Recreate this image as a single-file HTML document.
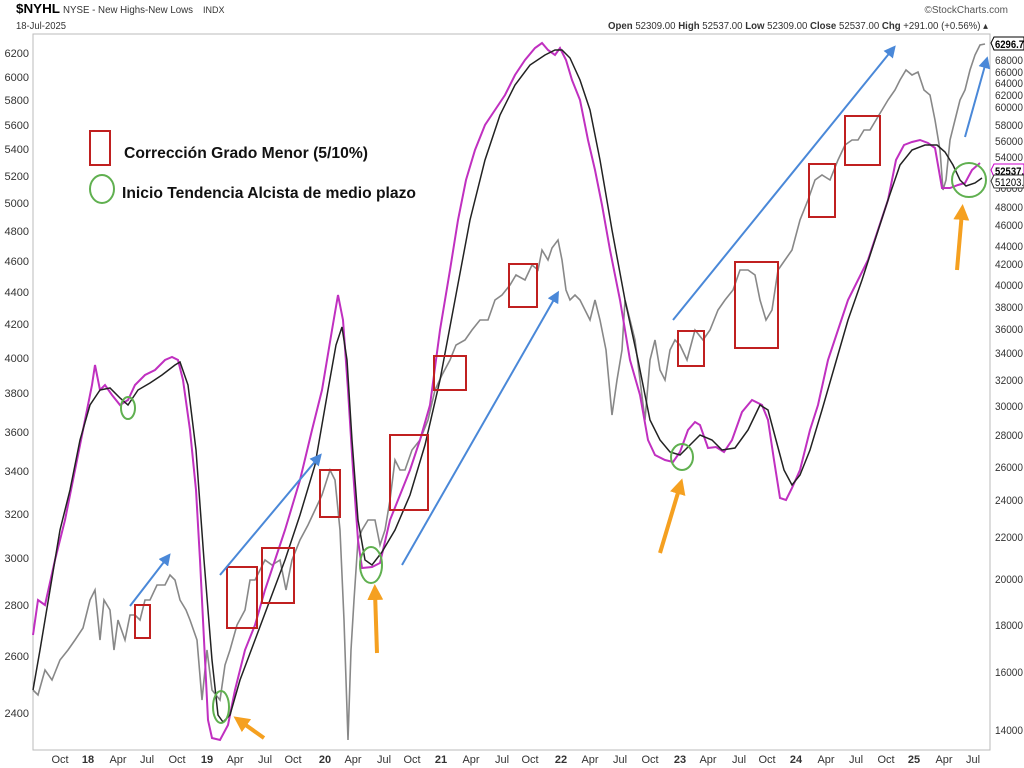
<!DOCTYPE html>
<html><head><meta charset="utf-8"><style>
body{margin:0;background:#fff;}
svg{display:block;font-family:"Liberation Sans",sans-serif;}
.ax{font-size:11px;fill:#333;}
.ra{font-size:11px;fill:#333;}
</style></head><body>
<svg width="1024" height="768" viewBox="0 0 1024 768">
<rect width="1024" height="768" fill="#fff"/>
<text x="16" y="13" font-size="13" font-weight="bold" fill="#000" textLength="44" lengthAdjust="spacingAndGlyphs">$NYHL</text>
<text x="63" y="13" font-size="10" fill="#333" textLength="130" lengthAdjust="spacingAndGlyphs">NYSE - New Highs-New Lows</text>
<text x="203" y="13" font-size="9" fill="#333">INDX</text>
<text x="16" y="29" font-size="10" fill="#333" textLength="50" lengthAdjust="spacingAndGlyphs">18-Jul-2025</text>
<text x="1008" y="13" font-size="10" fill="#555" text-anchor="end">©StockCharts.com</text>
<text x="608" y="29" font-size="10" fill="#333" textLength="380" lengthAdjust="spacingAndGlyphs"><tspan font-weight="bold">Open</tspan> 52309.00 <tspan font-weight="bold">High</tspan> 52537.00 <tspan font-weight="bold">Low</tspan> 52309.00 <tspan font-weight="bold">Close</tspan> 52537.00 <tspan font-weight="bold">Chg</tspan> +291.00 (+0.56%) ▴</text>
<rect x="33" y="34" width="957" height="716" fill="none" stroke="#bbb"/>
<g class="ax" text-anchor="end">
<text x="29" y="57">6200</text><text x="29" y="81">6000</text><text x="29" y="104">5800</text><text x="29" y="129">5600</text><text x="29" y="153">5400</text><text x="29" y="180">5200</text><text x="29" y="207">5000</text><text x="29" y="235">4800</text><text x="29" y="265">4600</text><text x="29" y="296">4400</text><text x="29" y="328">4200</text><text x="29" y="362">4000</text><text x="29" y="397">3800</text><text x="29" y="436">3600</text><text x="29" y="475">3400</text><text x="29" y="518">3200</text><text x="29" y="562">3000</text><text x="29" y="609">2800</text><text x="29" y="660">2600</text><text x="29" y="717">2400</text>
</g>
<g class="ra">
<text x="995" y="64" textLength="28" lengthAdjust="spacingAndGlyphs">68000</text><text x="995" y="76" textLength="28" lengthAdjust="spacingAndGlyphs">66000</text><text x="995" y="87" textLength="28" lengthAdjust="spacingAndGlyphs">64000</text><text x="995" y="99" textLength="28" lengthAdjust="spacingAndGlyphs">62000</text><text x="995" y="111" textLength="28" lengthAdjust="spacingAndGlyphs">60000</text><text x="995" y="129" textLength="28" lengthAdjust="spacingAndGlyphs">58000</text><text x="995" y="145" textLength="28" lengthAdjust="spacingAndGlyphs">56000</text><text x="995" y="161" textLength="28" lengthAdjust="spacingAndGlyphs">54000</text><text x="995" y="192" textLength="28" lengthAdjust="spacingAndGlyphs">50000</text><text x="995" y="211" textLength="28" lengthAdjust="spacingAndGlyphs">48000</text><text x="995" y="229" textLength="28" lengthAdjust="spacingAndGlyphs">46000</text><text x="995" y="250" textLength="28" lengthAdjust="spacingAndGlyphs">44000</text><text x="995" y="268" textLength="28" lengthAdjust="spacingAndGlyphs">42000</text><text x="995" y="289" textLength="28" lengthAdjust="spacingAndGlyphs">40000</text><text x="995" y="311" textLength="28" lengthAdjust="spacingAndGlyphs">38000</text><text x="995" y="333" textLength="28" lengthAdjust="spacingAndGlyphs">36000</text><text x="995" y="357" textLength="28" lengthAdjust="spacingAndGlyphs">34000</text><text x="995" y="384" textLength="28" lengthAdjust="spacingAndGlyphs">32000</text><text x="995" y="410" textLength="28" lengthAdjust="spacingAndGlyphs">30000</text><text x="995" y="439" textLength="28" lengthAdjust="spacingAndGlyphs">28000</text><text x="995" y="471" textLength="28" lengthAdjust="spacingAndGlyphs">26000</text><text x="995" y="504" textLength="28" lengthAdjust="spacingAndGlyphs">24000</text><text x="995" y="541" textLength="28" lengthAdjust="spacingAndGlyphs">22000</text><text x="995" y="583" textLength="28" lengthAdjust="spacingAndGlyphs">20000</text><text x="995" y="629" textLength="28" lengthAdjust="spacingAndGlyphs">18000</text><text x="995" y="676" textLength="28" lengthAdjust="spacingAndGlyphs">16000</text><text x="995" y="734" textLength="28" lengthAdjust="spacingAndGlyphs">14000</text>
</g>
<path d="M991,43 l3,-6 h30 v13 h-30z" fill="#fff" stroke="#000"/><text x="995" y="48" font-size="11" font-weight="bold" textLength="29" lengthAdjust="spacingAndGlyphs">6296.7</text>
<path d="M991,170 l3,-6 h30 v13 h-30z" fill="#fff" stroke="#c0c"/><text x="995" y="175" font-size="11" font-weight="bold" textLength="29" lengthAdjust="spacingAndGlyphs">52537.</text>
<path d="M991,181 l3,-6 h30 v13 h-30z" fill="#fff" stroke="#333"/><text x="995" y="186" font-size="11" textLength="29" lengthAdjust="spacingAndGlyphs">51203.</text>
<g class="ax" text-anchor="middle">
<text x="60" y="763">Oct</text><text x="88" y="763" font-weight="bold">18</text><text x="118" y="763">Apr</text><text x="147" y="763">Jul</text><text x="177" y="763">Oct</text><text x="207" y="763" font-weight="bold">19</text><text x="235" y="763">Apr</text><text x="265" y="763">Jul</text><text x="293" y="763">Oct</text><text x="325" y="763" font-weight="bold">20</text><text x="353" y="763">Apr</text><text x="384" y="763">Jul</text><text x="412" y="763">Oct</text><text x="441" y="763" font-weight="bold">21</text><text x="471" y="763">Apr</text><text x="502" y="763">Jul</text><text x="530" y="763">Oct</text><text x="561" y="763" font-weight="bold">22</text><text x="590" y="763">Apr</text><text x="620" y="763">Jul</text><text x="650" y="763">Oct</text><text x="680" y="763" font-weight="bold">23</text><text x="708" y="763">Apr</text><text x="739" y="763">Jul</text><text x="767" y="763">Oct</text><text x="796" y="763" font-weight="bold">24</text><text x="826" y="763">Apr</text><text x="856" y="763">Jul</text><text x="886" y="763">Oct</text><text x="914" y="763" font-weight="bold">25</text><text x="944" y="763">Apr</text><text x="973" y="763">Jul</text>
</g>
<polyline fill="none" stroke="#888" stroke-width="1.6" points="33,690 38,695 45,670 52,680 60,660 68,650 75,640 83,628 90,600 95,590 100,640 104,600 110,610 114,650 118,620 125,640 130,615 135,615 140,620 145,600 150,600 157,585 165,585 170,575 175,580 180,600 186,610 190,620 197,640 202,700 207,650 212,690 220,700 225,665 230,650 237,625 245,610 250,580 255,580 260,570 265,560 272,565 280,560 286,590 292,560 300,540 308,525 315,510 322,495 330,470 335,480 340,530 344,620 348,740 351,650 354,600 358,540 362,530 368,520 375,520 380,545 385,530 390,500 395,460 400,470 405,470 412,450 420,440 428,420 435,390 442,375 450,360 456,345 465,340 472,330 480,320 488,320 495,300 502,295 510,285 516,275 525,280 532,265 538,270 542,250 548,260 552,248 558,240 562,260 566,290 570,300 575,295 580,300 585,310 590,320 595,300 600,320 606,350 612,415 617,380 622,350 625,300 630,320 635,340 640,380 645,420 650,360 655,340 660,370 665,380 670,350 675,340 680,345 687,360 695,330 703,340 710,330 718,310 725,300 733,290 740,270 748,270 755,275 760,300 766,320 772,310 778,270 785,260 792,250 800,220 808,200 815,180 822,175 830,180 838,160 845,145 852,140 858,140 864,130 870,130 876,120 882,110 888,100 895,90 900,80 906,70 912,75 918,72 924,90 930,95 935,120 940,150 943,190 946,180 950,140 955,120 960,100 965,90 970,70 975,55 980,45 985,44"/>
<polyline fill="none" stroke="#c030c0" stroke-width="2" points="33,635 38,600 45,605 55,560 65,520 75,470 85,420 92,385 95,365 100,390 105,385 112,395 120,405 128,400 135,385 145,375 155,370 165,360 172,357 178,360 183,380 190,430 196,490 200,560 204,640 208,720 212,738 220,740 228,725 235,690 245,650 255,625 265,590 275,560 285,530 300,480 312,430 322,390 332,330 338,295 343,320 348,390 353,470 358,540 362,568 372,567 380,563 390,520 400,495 410,470 420,440 430,405 440,330 450,270 458,220 466,180 475,150 485,125 495,110 505,95 515,75 525,60 535,48 542,43 548,50 555,55 560,48 566,60 572,80 580,100 588,140 595,170 602,205 610,250 620,300 630,360 640,395 648,440 655,455 665,460 673,462 680,452 688,430 695,422 700,425 708,448 716,447 724,452 732,440 742,412 752,400 762,405 768,420 774,460 780,498 786,500 792,488 800,470 810,430 818,405 828,360 838,330 848,300 858,280 868,260 878,230 888,200 896,160 904,145 912,142 920,140 928,143 935,148 942,188 950,188 958,185 965,183 972,170 980,163"/>
<polyline fill="none" stroke="#222" stroke-width="1.5" points="33,690 40,650 50,590 60,530 70,490 80,440 90,405 100,390 110,388 120,398 128,405 138,390 150,383 162,375 175,365 180,362 188,385 196,450 204,560 212,660 218,715 223,722 230,715 240,680 255,640 270,600 285,560 300,515 315,465 328,390 336,345 342,327 347,360 352,440 358,520 365,560 372,565 382,552 395,530 410,495 425,445 440,380 455,300 470,220 485,160 500,115 515,85 530,65 545,55 555,50 562,50 570,58 580,80 590,110 600,160 612,230 625,300 638,360 650,420 660,440 670,452 680,455 690,445 700,435 712,440 722,450 735,448 748,430 760,405 768,410 776,440 784,470 792,485 800,475 810,450 822,410 835,365 848,320 862,280 875,240 888,200 900,165 912,150 925,145 937,145 945,152 953,165 960,180 966,186 975,183 982,178"/>
<g fill="none" stroke="#c02020" stroke-width="2">
<rect x="135" y="605" width="15" height="33"/><rect x="227" y="567" width="30" height="61"/><rect x="262" y="548" width="32" height="55"/><rect x="320" y="470" width="20" height="47"/><rect x="390" y="435" width="38" height="75"/><rect x="434" y="356" width="32" height="34"/><rect x="509" y="264" width="28" height="43"/><rect x="678" y="331" width="26" height="35"/><rect x="735" y="262" width="43" height="86"/><rect x="809" y="164" width="26" height="53"/><rect x="845" y="116" width="35" height="49"/><rect x="90" y="131" width="20" height="34"/>
</g>
<g fill="none" stroke="#60b050" stroke-width="2">
<ellipse cx="128" cy="408" rx="7" ry="11"/><ellipse cx="221" cy="707" rx="8" ry="16"/><ellipse cx="371" cy="565" rx="11" ry="18"/><ellipse cx="682" cy="457" rx="11" ry="13"/><circle cx="969" cy="180" r="17"/><ellipse cx="102" cy="189" rx="12" ry="14"/>
</g>
<text x="124" y="158" font-size="16" font-weight="bold" fill="#111" textLength="244" lengthAdjust="spacingAndGlyphs">Corrección Grado Menor (5/10%)</text>
<text x="122" y="198" font-size="16" font-weight="bold" fill="#111" textLength="294" lengthAdjust="spacingAndGlyphs">Inicio Tendencia Alcista de medio plazo</text>
<defs>
<marker id="b" markerWidth="6" markerHeight="6" refX="3" refY="3" orient="auto"><path d="M0,0 L6,3 L0,6z" fill="#4a88d8"/></marker>
<marker id="o" markerWidth="4" markerHeight="4" refX="2" refY="2" orient="auto"><path d="M0,0 L4,2 L0,4z" fill="#f5a020"/></marker>
</defs>
<g stroke="#4a88d8" stroke-width="2" marker-end="url(#b)">
<line x1="130" y1="606" x2="167" y2="558"/><line x1="220" y1="575" x2="318" y2="458"/><line x1="402" y1="565" x2="556" y2="296"/><line x1="673" y1="320" x2="892" y2="50"/><line x1="965" y1="137" x2="986" y2="62"/>
</g>
<g stroke="#f5a020" stroke-width="4" marker-end="url(#o)">
<line x1="264" y1="738" x2="240" y2="721"/><line x1="377" y1="653" x2="375" y2="592"/><line x1="660" y1="553" x2="680" y2="486"/><line x1="957" y1="270" x2="962" y2="212"/>
</g>
</svg>
</body></html>
